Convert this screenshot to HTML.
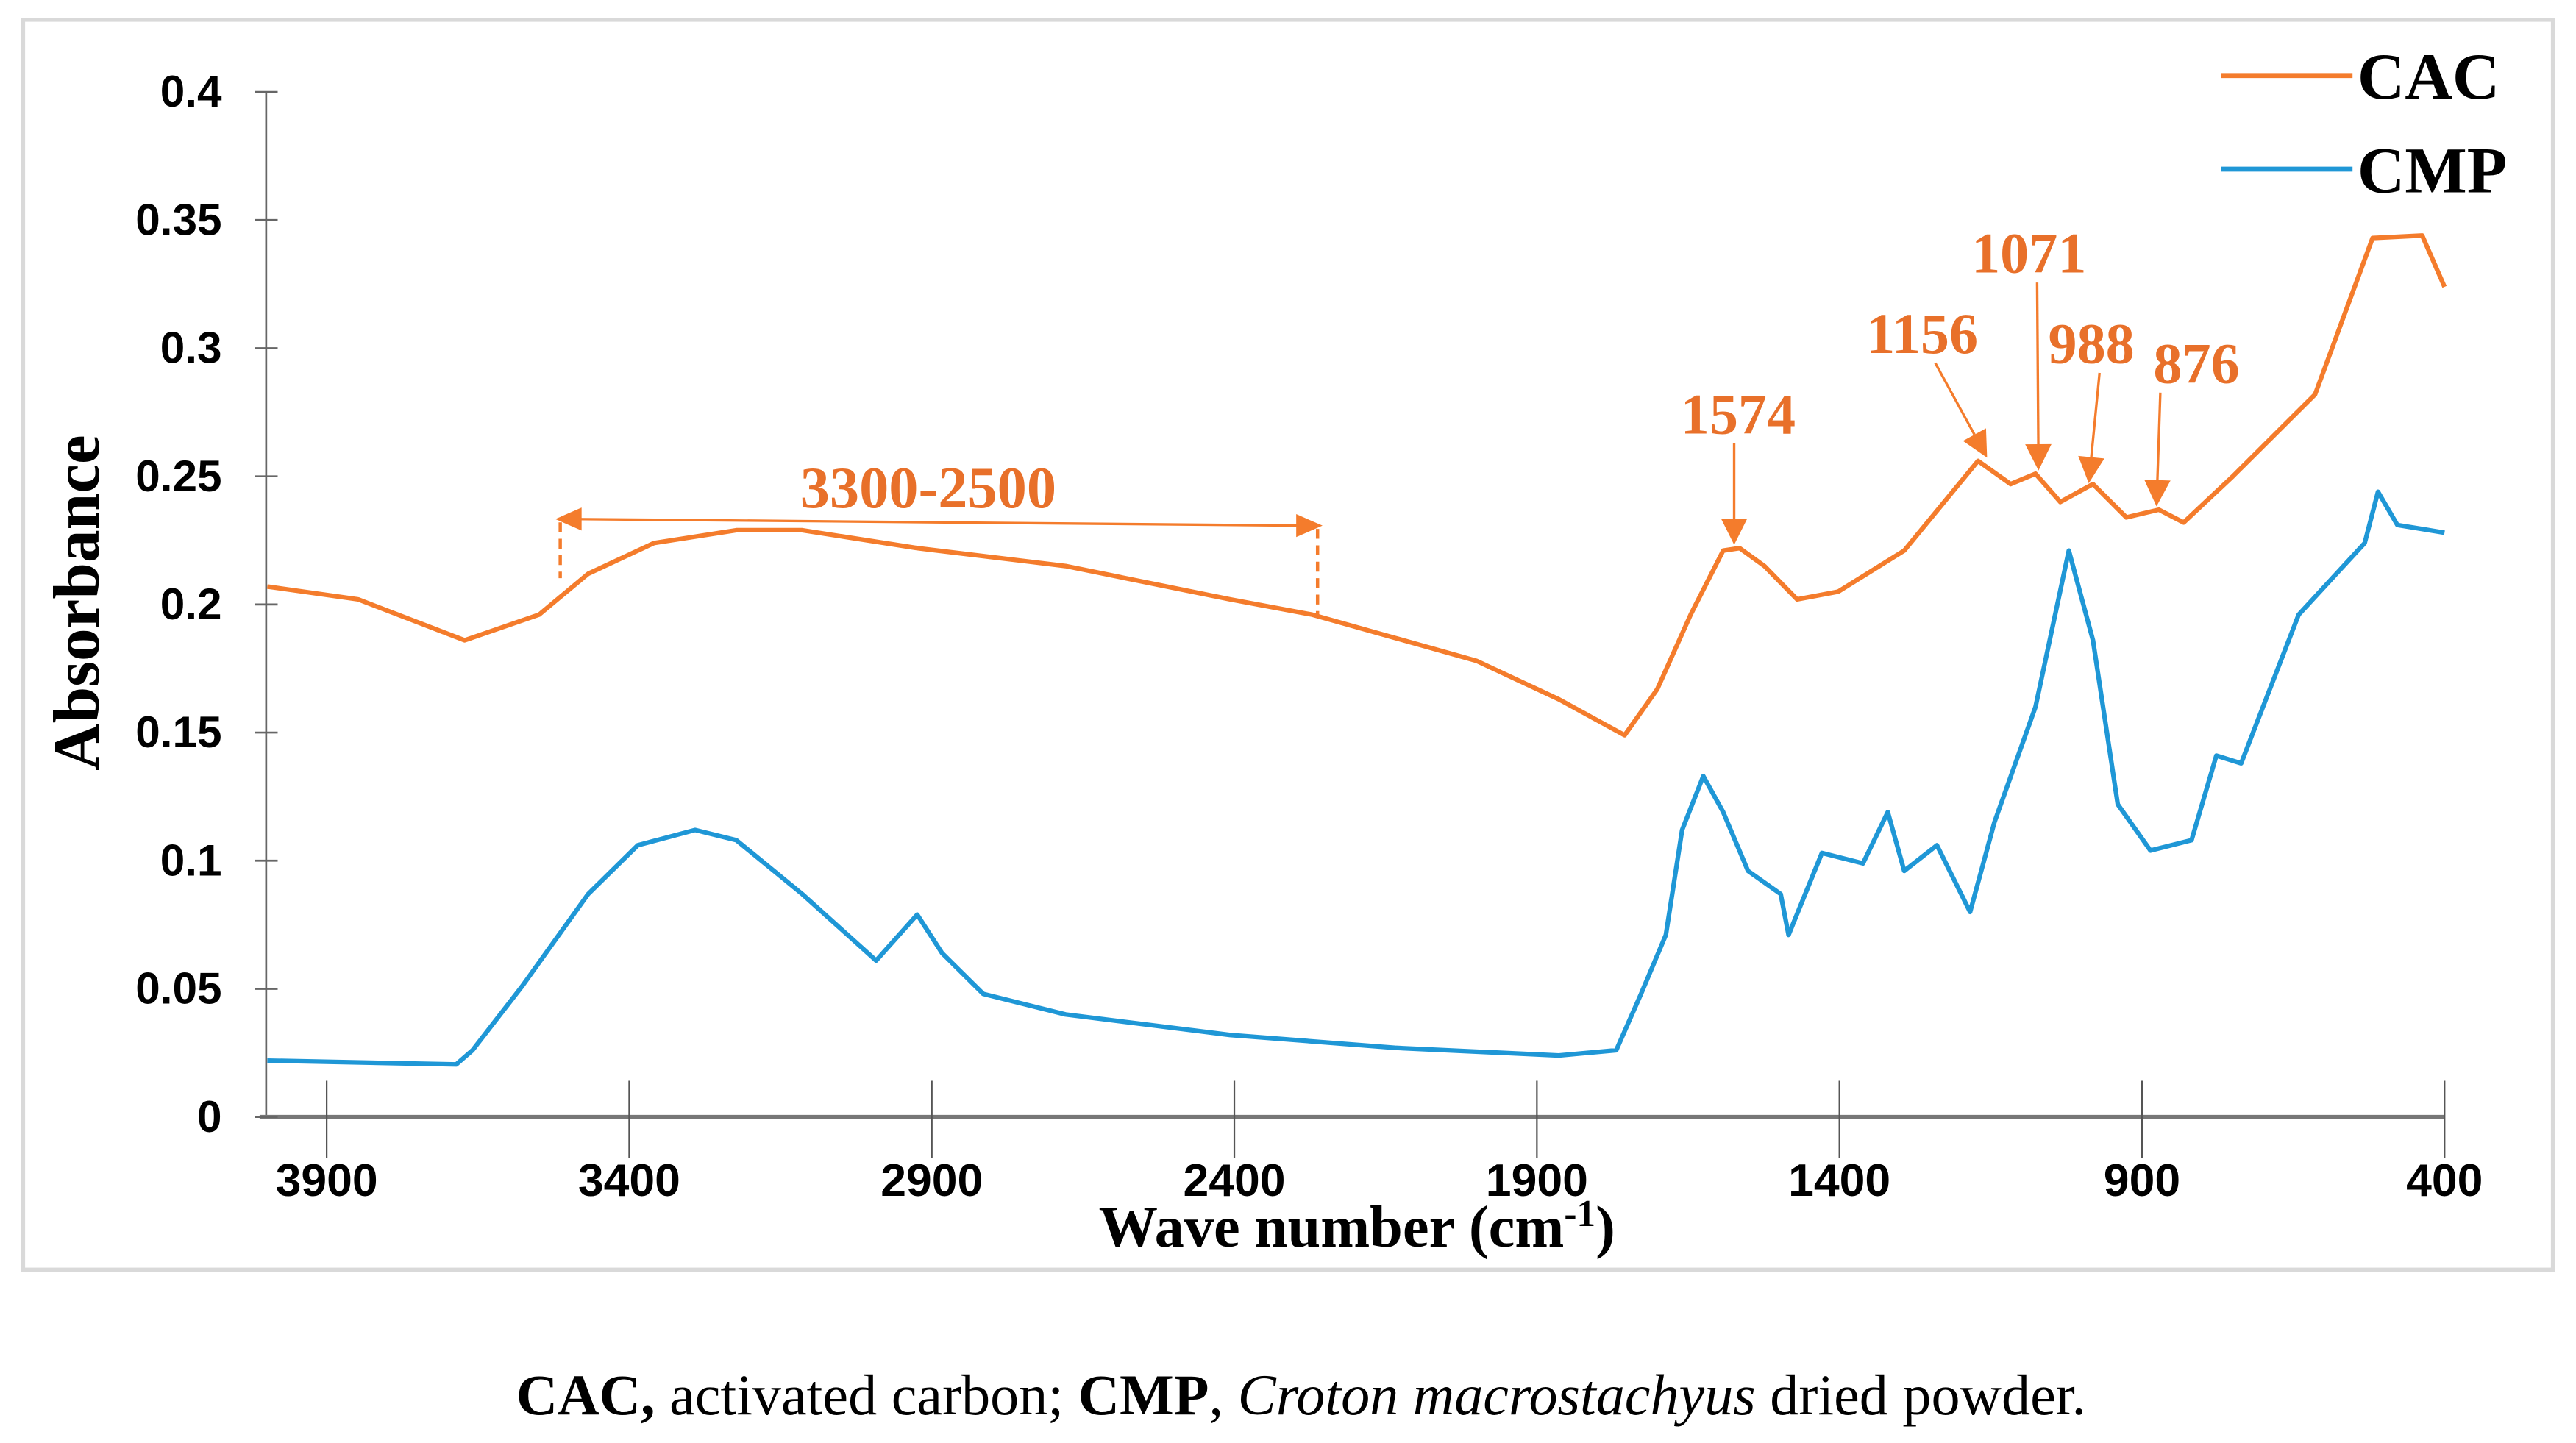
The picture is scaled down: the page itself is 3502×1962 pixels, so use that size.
<!DOCTYPE html>
<html><head><meta charset="utf-8"><style>
html,body{margin:0;padding:0;background:#fff;}
svg{display:block;}
</style></head><body>
<svg id="chart" width="3502" height="1962" viewBox="0 0 1568 878.5" xmlns="http://www.w3.org/2000/svg">
<rect x="14" y="12" width="1540" height="761" fill="#fff" stroke="#d9d9d9" stroke-width="2.5"/>
<g id="axes"></g>
<g id="series"></g>
<g id="annot"></g>
<text transform="translate(60,367) rotate(-90)" text-anchor="middle" font-family="Liberation Serif, serif" font-weight="bold" font-size="40">Absorbance</text>
<text x="826" y="759" text-anchor="middle" font-family="Liberation Serif, serif" font-weight="bold" font-size="36">Wave number (cm<tspan baseline-shift="super" font-size="23">-1</tspan>)</text>
<g>
<line x1="1352" y1="46" x2="1432" y2="46" stroke="#f47c2c" stroke-width="3"/>
<text x="1435" y="60" font-family="Liberation Serif, serif" font-weight="bold" font-size="40">CAC</text>
<line x1="1352" y1="103" x2="1432" y2="103" stroke="#1f97d6" stroke-width="3"/>
<text x="1435" y="117" font-family="Liberation Serif, serif" font-weight="bold" font-size="40">CMP</text>
</g>
<text x="792" y="861" text-anchor="middle" font-family="Liberation Serif, serif" font-size="35"><tspan font-weight="bold">CAC,</tspan> activated carbon; <tspan font-weight="bold">CMP</tspan>, <tspan font-style="italic">Croton macrostachyus</tspan> dried powder.</text>
</svg>
<script>
const xTicks = [3900, 3400, 2900, 2400, 1900, 1400, 900, 400];
const yTicks = [0, 0.05, 0.1, 0.15, 0.2, 0.25, 0.3, 0.35, 0.4];
const yTickLabels = ["0", "0.05", "0.1", "0.15", "0.2", "0.25", "0.3", "0.35", "0.4"];
const cacWave = [3998,3848,3672,3549,3468,3359,3223,3114,2924,2679,2407,2271,2135,2000,1864,1755,1701,1646,1592,1565,1524,1470,1402,1293,1171,1117,1076,1035,981,926,872,831,750,614,519,437,400];
const cacAbs  = [0.207,0.202,0.186,0.196,0.212,0.224,0.229,0.229,0.222,0.215,0.202,0.196,0.187,0.178,0.163,0.149,0.167,0.196,0.221,0.222,0.215,0.202,0.205,0.221,0.256,0.247,0.251,0.240,0.247,0.234,0.237,0.232,0.25,0.282,0.343,0.344,0.324];
const cmpWave = [3998,3686,3659,3577,3468,3386,3291,3223,3114,2992,2924,2883,2815,2679,2407,2135,1864,1769,1728,1687,1660,1625,1592,1551,1497,1484,1429,1361,1320,1293,1239,1184,1144,1076,1021,981,940,886,818,777,736,641,532,510,478,400];
const cmpAbs  = [0.022,0.0205,0.026,0.051,0.087,0.106,0.112,0.108,0.087,0.061,0.079,0.064,0.048,0.040,0.032,0.027,0.024,0.026,0.048,0.071,0.112,0.133,0.119,0.096,0.087,0.071,0.103,0.099,0.119,0.096,0.106,0.080,0.115,0.160,0.221,0.186,0.122,0.104,0.108,0.141,0.138,0.196,0.224,0.244,0.231,0.228];
const annWave = [1574, 1156, 1071, 988, 876];
const annAbs  = [0.222, 0.256, 0.251, 0.246, 0.237];
const annLabels = ["1574", "1156", "1071", "988", "876"];

const NS = "http://www.w3.org/2000/svg";
const X0 = 162, X1 = 1488, WMAX = 4000, WMIN = 400;
const Y0 = 680, Y1 = 56;
function xs(w){ return X0 + (WMAX - w) / (WMAX - WMIN) * (X1 - X0); }
function ys(a){ return Y0 - a / 0.4 * (Y0 - Y1); }
function mk(tag, attrs, parent){ const e = document.createElementNS(NS, tag); for (const k in attrs) e.setAttribute(k, attrs[k]); parent.appendChild(e); return e; }

const axes = document.getElementById('axes');
let ya = mk('line', {x1:X0, y1:Y0, x2:X0, y2:Y1, stroke:'#666', 'stroke-width':1.2}, axes);


let xa = mk('line', {x1:X0-4, y1:Y0, x2:X1, y2:Y0, stroke:'#777', 'stroke-width':2.5}, axes);


yTicks.forEach((v, i) => {
  const t = mk('line', {x1:X0-7, x2:X0+7, y1:ys(v), y2:ys(v), stroke:'#666', 'stroke-width':1.2}, axes);
  
  
  const l = mk('text', {x:135, y:ys(v)+9, 'text-anchor':'end', 'font-family':'Liberation Sans, sans-serif', 'font-weight':'bold', 'font-size':27}, axes);
  l.textContent = yTickLabels[i];
  
  
});
xTicks.forEach(v => {
  const t = mk('line', {x1:xs(v), x2:xs(v), y1:Y0-22, y2:Y0+25, stroke:'#555', 'stroke-width':1}, axes);
  
  
  const l = mk('text', {x:xs(v), y:728, 'text-anchor':'middle', 'font-family':'Liberation Sans, sans-serif', 'font-weight':'bold', 'font-size':28}, axes);
  l.textContent = v;
  
  
});

const series = document.getElementById('series');
function pathOf(ws, as){ return ws.map((w,i)=>(i?'L':'M')+xs(w).toFixed(1)+','+ys(as[i]).toFixed(1)).join(' '); }
const pc = mk('path', {d:pathOf(cacWave, cacAbs), fill:'none', stroke:'#f47c2c', 'stroke-width':2.8, 'stroke-linejoin':'round'}, series);


const pm = mk('path', {d:pathOf(cmpWave, cmpAbs), fill:'none', stroke:'#1f97d6', 'stroke-width':2.8, 'stroke-linejoin':'round'}, series);



const an = document.getElementById('annot');
const OR = '#f47c2c';
const rx1 = 338, rx2 = 805;
const ra = mk('g', {}, an);


mk('line', {x1:rx1+12, y1:316, x2:rx2-12, y2:320, stroke:OR, 'stroke-width':1.5}, ra);
mk('path', {d:`M${rx1},316 L${rx1+16},309 L${rx1+16},323 Z`, fill:OR}, ra);
mk('path', {d:`M${rx2},320 L${rx2-16},313 L${rx2-16},327 Z`, fill:OR}, ra);
mk('line', {x1:rx1+3, y1:318, x2:rx1+3, y2:352, stroke:OR, 'stroke-width':2, 'stroke-dasharray':'6,4'}, ra);
mk('line', {x1:rx2-3, y1:322, x2:rx2-3, y2:375, stroke:OR, 'stroke-width':2, 'stroke-dasharray':'6,4'}, ra);
const rl = mk('text', {x:565, y:309, 'text-anchor':'middle', fill:'#e8702a', 'font-family':'Liberation Serif, serif', 'font-weight':'bold', 'font-size':36}, ra);
rl.textContent = '3300-2500';


const labPos = [[1058,264],[1170,215],[1235,166],[1273,221],[1337,233]];
annWave.forEach((w, i) => {
  const tx = xs(w), ty = ys(annAbs[i]) - 2;
  const [lx, ly] = labPos[i];
  const g = mk('g', {}, an);
  
  
  const sx = (i===0)? tx : lx + (i===4 ? -22 : (i===1 ? 8 : 5));
  const sy = ly + 6;
  const dx = tx - sx, dy = ty - sy, L = Math.hypot(dx, dy), ux = dx/L, uy = dy/L;
  const bx = tx - ux*16, by = ty - uy*16;
  mk('line', {x1:sx, y1:sy, x2:bx, y2:by, stroke:OR, 'stroke-width':1.5}, g);
  mk('path', {d:`M${tx},${ty} L${bx - uy*8},${by + ux*8} L${bx + uy*8},${by - ux*8} Z`, fill:OR}, g);
  const t = mk('text', {x:lx, y:ly, 'text-anchor':'middle', fill:'#e8702a', 'font-family':'Liberation Serif, serif', 'font-weight':'bold', 'font-size':35}, g);
  t.textContent = annLabels[i];
  
  
});
</script>
</body></html>
